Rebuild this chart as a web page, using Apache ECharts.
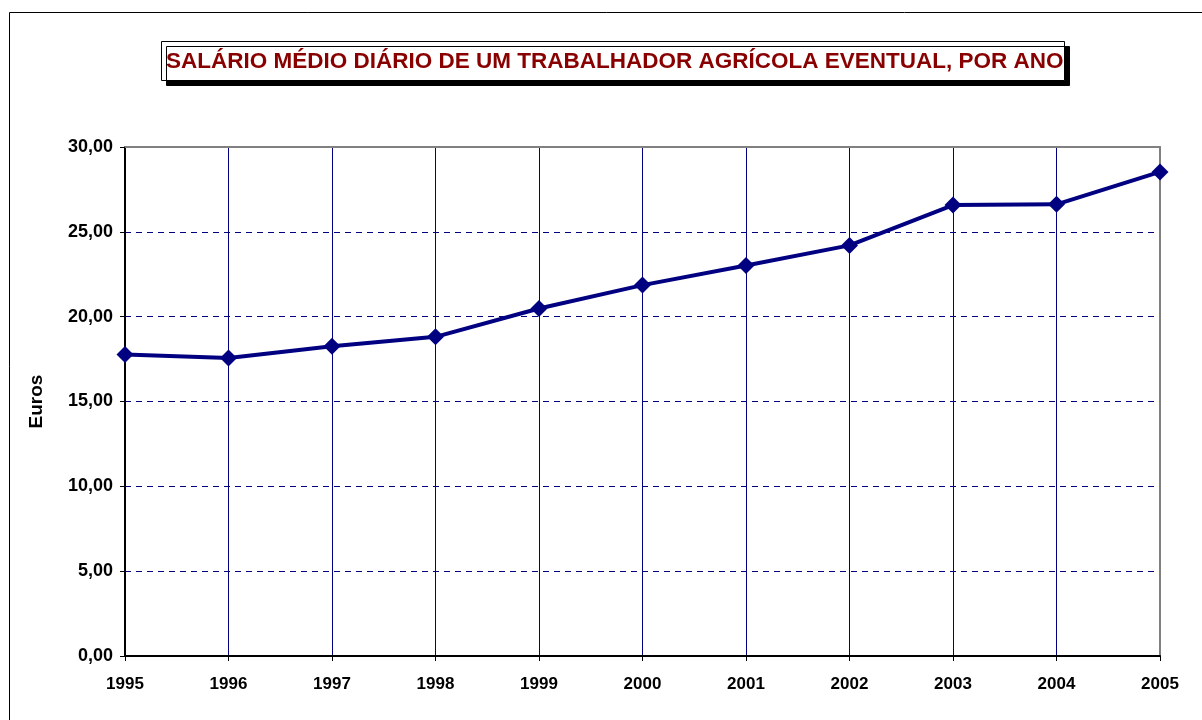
<!DOCTYPE html>
<html>
<head>
<meta charset="utf-8">
<script src="https://cdn.jsdelivr.net/npm/echarts@6/dist/echarts.min.js"></script>
<style>
  html, body { margin: 0; padding: 0; background: #fff; }
  #chart { width: 1202px; height: 720px; }
</style>
</head>
<body>
<div id="chart"></div>
<script>
// dados
var anos = ['1995', '1996', '1997', '1998', '1999', '2000', '2001', '2002', '2003', '2004', '2005'];
var salarioMedio = [17.77, 17.57, 18.26, 18.81, 20.48, 21.86, 23.02, 24.20, 26.58, 26.62, 28.53];
var eixoY = { min: 0, max: 30, interval: 5 };

var chart = echarts.init(document.getElementById('chart'));
var fonte = 'Liberation Sans, Arial, sans-serif';

var option = {
  backgroundColor: '#fff',
  animation: false,
  title: {
    text: 'SALÁRIO MÉDIO DIÁRIO DE UM TRABALHADOR AGRÍCOLA EVENTUAL, POR ANO',
    left: 161,
    top: 41,
    padding: [9, 1, 8, 5],
    backgroundColor: '#fff',
    borderColor: '#000',
    borderWidth: 1,
    shadowColor: '#000',
    shadowBlur: 0,
    shadowOffsetX: 5,
    shadowOffsetY: 5,
    textStyle: {
      color: '#880000',
      fontFamily: fonte,
      fontWeight: 'bold',
      fontSize: 22.5
    }
  },
  graphic: [{
    type: 'rect',
    shape: { x: 9.5, y: 12.5, width: 1210, height: 730 },
    style: { fill: 'none', stroke: '#000', lineWidth: 1 },
    silent: true
  }],
  grid: { left: 125, right: 42, top: 147, bottom: 64 },
  xAxis: [{
    type: 'category',
    data: anos,
    boundaryGap: false,
    axisLine: { lineStyle: { color: '#000', width: 2 } },
    axisTick: { show: true, length: 5, lineStyle: { color: '#000', width: 1 } },
    axisLabel: { margin: 20, color: '#000', fontFamily: fonte, fontWeight: 'bold', fontSize: 17 },
    splitLine: { show: true, showMinLine: false, showMaxLine: false, lineStyle: { color: '#000080', width: 1, type: 'solid' } }
  }, {
    type: 'category',
    data: anos,
    position: 'top',
    boundaryGap: false,
    axisLine: { onZero: false, lineStyle: { color: '#808080', width: 2 } },
    axisTick: { show: false },
    axisLabel: { show: false },
    splitLine: { show: false }
  }],
  yAxis: [{
    type: 'value',
    min: eixoY.min,
    max: eixoY.max,
    interval: eixoY.interval,
    name: 'Euros',
    nameLocation: 'middle',
    nameGap: 79,
    nameTextStyle: { color: '#000', fontFamily: fonte, fontWeight: 'bold', fontSize: 19 },
    axisLine: { show: true, lineStyle: { color: '#000', width: 2 } },
    axisTick: { show: true, length: 5, lineStyle: { color: '#000', width: 1 } },
    axisLabel: {
      margin: 12,
      color: '#000',
      fontFamily: fonte,
      fontWeight: 'bold',
      fontSize: 18,
      formatter: function (v) { return v.toFixed(2).replace('.', ','); }
    },
    splitLine: { show: true, showMinLine: false, showMaxLine: false, lineStyle: { color: '#000080', width: 1, type: [6, 5] } }
  }, {
    type: 'value',
    position: 'right',
    min: eixoY.min,
    max: eixoY.max,
    interval: eixoY.interval,
    axisLine: { show: true, onZero: false, lineStyle: { color: '#808080', width: 2 } },
    axisTick: { show: false },
    axisLabel: { show: false },
    splitLine: { show: false }
  }],
  series: [{
    name: 'Salário médio diário',
    type: 'line',
    data: salarioMedio,
    symbol: 'diamond',
    symbolSize: 17,
    lineStyle: { color: '#000080', width: 4 },
    itemStyle: { color: '#000080' }
  }]
};

chart.setOption(option);
</script>
</body>
</html>
